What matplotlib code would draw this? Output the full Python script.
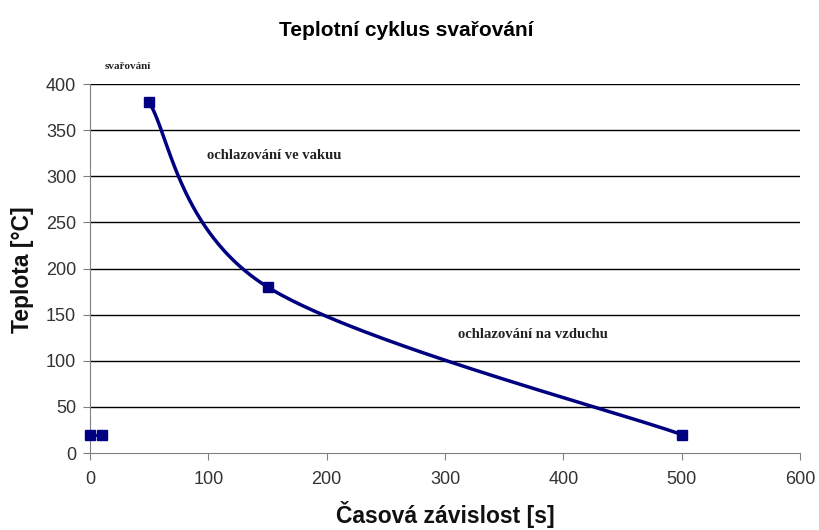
import numpy as np
import matplotlib
matplotlib.use("Agg")
import matplotlib.pyplot as plt

# data
weld_x = [0, 10]
weld_y = [20, 20]
cool_x = [50, 150, 500]
cool_y = [380, 180, 20]
x_ticks = [0, 100, 200, 300, 400, 500, 600]
y_ticks = [0, 50, 100, 150, 200, 250, 300, 350, 400]

def excel_smooth(xs, ys, n=100):
    P = np.column_stack([xs, ys]).astype(float)
    out = []
    for i in range(len(P) - 1):
        p0 = P[i - 1] if i > 0 else P[i]
        p1 = P[i]
        p2 = P[i + 1]
        p3 = P[i + 2] if i + 2 < len(P) else P[i + 1]
        c1 = p1 + (p2 - p0) / 6.0
        c2 = p2 - (p3 - p1) / 6.0
        t = np.linspace(0, 1, n)[:, None]
        seg = ((1 - t) ** 3) * p1 + 3 * ((1 - t) ** 2) * t * c1 + 3 * (1 - t) * t ** 2 * c2 + t ** 3 * p2
        out.append(seg)
    arr = np.vstack(out)
    return arr[:, 0], arr[:, 1]

navy = "#000080"
fig = plt.figure(figsize=(8.19, 5.30), dpi=100)
ax = fig.add_axes([90 / 819, 1 - 453 / 530, 710 / 819, 369 / 530])

for yv in y_ticks[1:]:
    ax.axhline(yv, color="black", lw=1.0, zorder=1)

ax.plot(weld_x, weld_y, color=navy, lw=2.2, marker="s", ms=6.5, zorder=3, clip_on=False)
sx, sy = excel_smooth(cool_x, cool_y)
ax.plot(sx, sy, color=navy, lw=2.5, zorder=3)
ax.plot(cool_x, cool_y, ls="none", color=navy, marker="s", ms=6.5, zorder=4)

ax.set_xlim(0, 600)
ax.set_ylim(0, 400)
ax.set_xticks(x_ticks)
ax.set_yticks(y_ticks)
for s in ["top", "right"]:
    ax.spines[s].set_visible(False)
for s in ["left", "bottom"]:
    ax.spines[s].set_color("#808080")
ax.tick_params(direction="out", length=5, color="#808080", labelsize=13, labelcolor="#333333",
               labelfontfamily="Liberation Sans")
ax.tick_params(axis="x", pad=8)
ax.tick_params(axis="y", pad=5)

fig.text(406 / 819, 1 - 30 / 530, "Teplotní cyklus svařování", ha="center", va="center",
         fontsize=15, fontweight="bold", family="Liberation Sans")
fig.text(445 / 819, 1 - 515 / 530, "Časová závislost [s]", ha="center", va="center",
         fontsize=16.5, fontweight="bold", family="Liberation Sans", color="#111111")
fig.text(23 / 819, 1 - 270 / 530, "Teplota [°C]", ha="center", va="center", rotation=90,
         fontsize=16.5, fontweight="bold", family="Liberation Sans", color="#111111")

ann = dict(fontweight="bold", family="Liberation Serif", color="#222222", va="center")
ax.text(12, 419, "svařování", clip_on=False, fontsize=8, **ann)
ax.text(99, 322, "ochlazování ve vakuu", fontsize=10.5, **ann)
ax.text(311, 128, "ochlazování na vzduchu", fontsize=10.5, **ann)

fig.savefig("out.png", dpi=100)
